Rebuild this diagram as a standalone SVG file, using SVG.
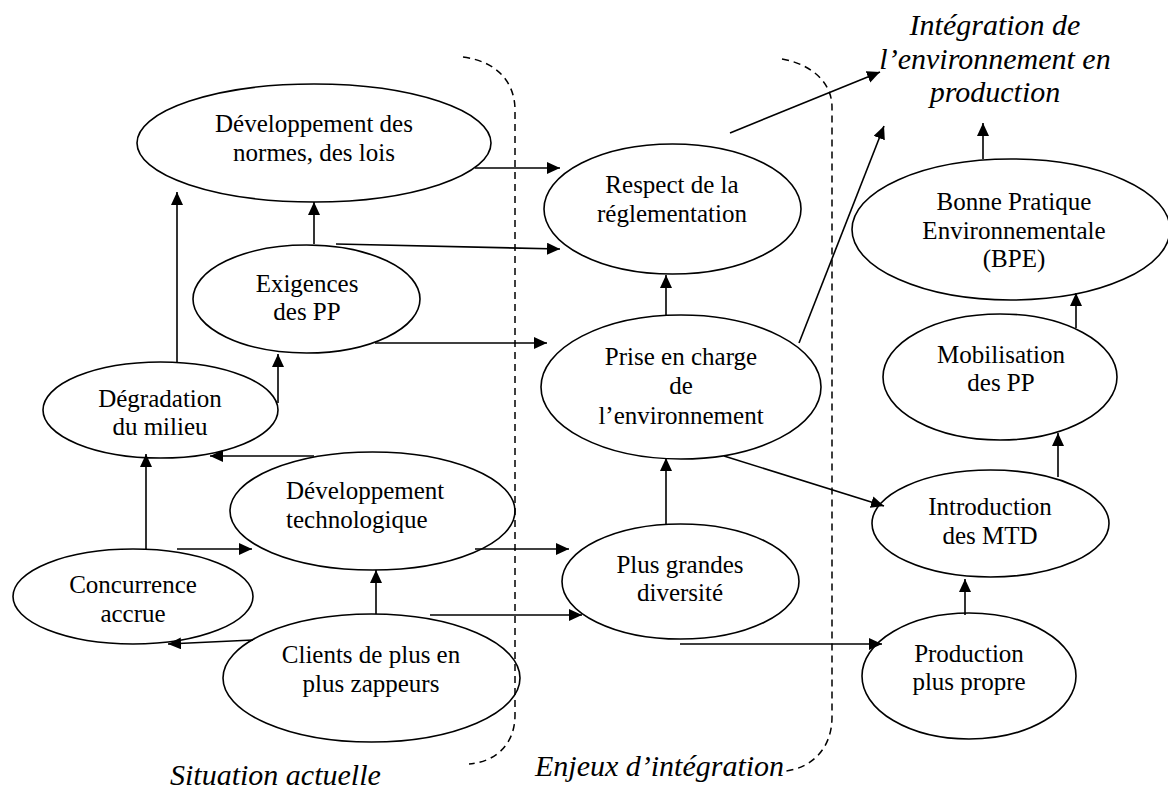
<svg xmlns="http://www.w3.org/2000/svg" width="1168" height="794" viewBox="0 0 1168 794">
<style>
.n{fill:none;stroke:#000;stroke-width:1.6}
.t{font-family:"Liberation Serif","Times New Roman",serif;font-size:25px;text-anchor:middle;fill:#000}
.lbl{font-family:"Liberation Serif","Times New Roman",serif;font-size:30px;font-style:italic;fill:#000}
.c{stroke:#000;stroke-width:1.6;fill:none;marker-end:url(#ah)}
.d{stroke:#000;stroke-width:1.5;fill:none;stroke-dasharray:7 5}
</style>
<defs>
<marker id="ah" markerUnits="userSpaceOnUse" markerWidth="14" markerHeight="13" refX="13" refY="6" orient="auto">
<path d="M0,0 L13,6 L0,12 Z" fill="#000"/>
</marker>
</defs>
<rect width="1168" height="794" fill="#fff"/>

<g id="boundaries">
<path class="d" d="M463,57 C500,62 515,85 515,110 L515,715 C515,745 495,762 469,764"/>
<path class="d" d="M782,59 C815,65 832,85 832,107 L832,717 C832,750 810,768 786,771"/>
</g>

<g id="connectors">
<line class="c" x1="475" y1="168" x2="560" y2="168"/>
<line class="c" x1="314" y1="244" x2="314" y2="202"/>
<line class="c" x1="336" y1="244" x2="560" y2="249"/>
<line class="c" x1="375" y1="343" x2="547" y2="343"/>
<line class="c" x1="177" y1="362" x2="177" y2="192"/>
<line class="c" x1="278" y1="403" x2="278" y2="354"/>
<line class="c" x1="314" y1="456" x2="210" y2="456"/>
<line class="c" x1="146" y1="549" x2="146" y2="454"/>
<line class="c" x1="177" y1="549" x2="252" y2="549"/>
<line class="c" x1="253" y1="640" x2="168" y2="644"/>
<line class="c" x1="376" y1="614" x2="376" y2="570"/>
<line class="c" x1="475" y1="549" x2="569" y2="549"/>
<line class="c" x1="430" y1="615" x2="582" y2="615"/>
<line class="c" x1="666" y1="315" x2="666" y2="275"/>
<line class="c" x1="666" y1="524" x2="666" y2="458"/>
<line class="c" x1="724" y1="456" x2="884" y2="506"/>
<line class="c" x1="680" y1="644" x2="882" y2="644"/>
<line class="c" x1="965" y1="615" x2="965" y2="579"/>
<line class="c" x1="1058" y1="477" x2="1058" y2="433"/>
<line class="c" x1="1076" y1="328" x2="1076" y2="293"/>
<line class="c" x1="983" y1="159" x2="983" y2="123"/>
<line class="c" x1="730" y1="133" x2="880" y2="72"/>
<line class="c" x1="799" y1="343" x2="884" y2="126"/>
</g>

<g id="n-dev-normes">
<ellipse class="n" cx="314" cy="143" rx="177" ry="59"/>
<text class="t" x="314" y="132">Développement des</text>
<text class="t" x="314" y="161">normes, des lois</text>
</g>
<g id="n-exigences">
<ellipse class="n" cx="306.5" cy="299" rx="113.5" ry="54"/>
<text class="t" x="307" y="292">Exigences</text>
<text class="t" x="307" y="320">des PP</text>
</g>
<g id="n-degradation">
<ellipse class="n" cx="160.5" cy="410" rx="117.5" ry="48"/>
<text class="t" x="160" y="407">Dégradation</text>
<text class="t" x="160" y="435">du milieu</text>
</g>
<g id="n-dev-tech">
<ellipse class="n" cx="372.5" cy="511" rx="142.5" ry="59"/>
<text class="t" x="286" y="499" style="text-anchor:start">Développement</text>
<text class="t" x="286" y="528" style="text-anchor:start">technologique</text>
</g>
<g id="n-concurrence">
<ellipse class="n" cx="133" cy="596.5" rx="120" ry="47.5"/>
<text class="t" x="133" y="593">Concurrence</text>
<text class="t" x="133" y="622">accrue</text>
</g>
<g id="n-clients">
<ellipse class="n" cx="371.5" cy="678" rx="148.5" ry="64"/>
<text class="t" x="371" y="663">Clients de plus en</text>
<text class="t" x="371" y="692">plus zappeurs</text>
</g>
<g id="n-respect">
<ellipse class="n" cx="672.5" cy="209" rx="128.5" ry="65"/>
<text class="t" x="672" y="193">Respect de la</text>
<text class="t" x="672" y="222">réglementation</text>
</g>
<g id="n-prise">
<ellipse class="n" cx="681" cy="387" rx="140" ry="72"/>
<text class="t" x="681" y="365">Prise en charge</text>
<text class="t" x="681" y="394">de</text>
<text class="t" x="681" y="424">l’environnement</text>
</g>
<g id="n-plus-grandes">
<ellipse class="n" cx="680.5" cy="581.5" rx="118.5" ry="57.5"/>
<text class="t" x="680" y="573">Plus grandes</text>
<text class="t" x="680" y="601">diversité</text>
</g>
<g id="n-introduction">
<ellipse class="n" cx="990.5" cy="523.5" rx="118.5" ry="53.5"/>
<text class="t" x="990" y="515">Introduction</text>
<text class="t" x="990" y="544">des MTD</text>
</g>
<g id="n-production">
<ellipse class="n" cx="969" cy="676" rx="107" ry="63"/>
<text class="t" x="969" y="662">Production</text>
<text class="t" x="969" y="690">plus propre</text>
</g>
<g id="n-mobilisation">
<ellipse class="n" cx="1000" cy="377" rx="117" ry="63"/>
<text class="t" x="1001" y="363">Mobilisation</text>
<text class="t" x="1001" y="391">des PP</text>
</g>
<g id="n-bpe">
<ellipse class="n" cx="1011" cy="229.5" rx="159" ry="70.5"/>
<text class="t" x="1014" y="210">Bonne Pratique</text>
<text class="t" x="1014" y="239">Environnementale</text>
<text class="t" x="1014" y="267">(BPE)</text>
</g>

<g id="labels">
<text class="lbl" x="995" y="35" text-anchor="middle">Intégration de</text>
<text class="lbl" x="995" y="69" text-anchor="middle">l’environnement en</text>
<text class="lbl" x="995" y="102" text-anchor="middle">production</text>
<text class="lbl" x="170" y="785">Situation actuelle</text>
<text class="lbl" x="535" y="776">Enjeux d’intégration</text>
</g>
</svg>
